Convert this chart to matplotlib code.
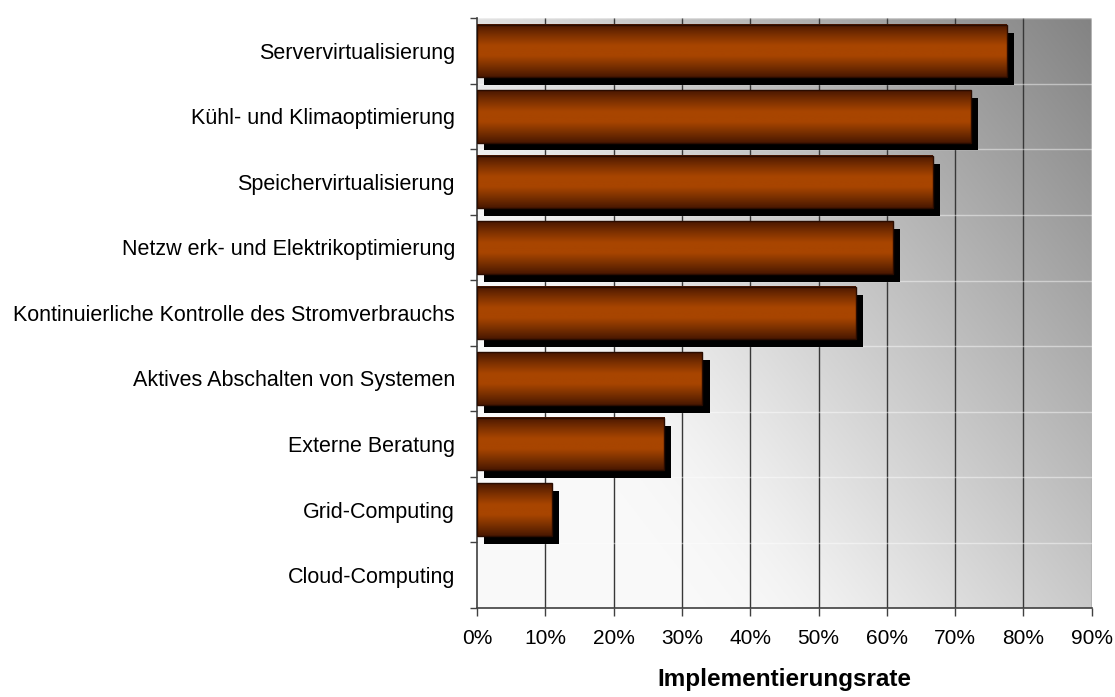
import numpy as np
import matplotlib.pyplot as plt
from matplotlib.colors import LinearSegmentedColormap
from matplotlib.patches import Rectangle

# Data (top to bottom)
categories = [
    "Servervirtualisierung",
    "Kühl- und Klimaoptimierung",
    "Speichervirtualisierung",
    "Netzw erk- und Elektrikoptimierung",
    "Kontinuierliche Kontrolle des Stromverbrauchs",
    "Aktives Abschalten von Systemen",
    "Externe Beratung",
    "Grid-Computing",
    "Cloud-Computing",
]
rates = [77.6, 72.3, 66.7, 60.9, 55.5, 33.0, 27.4, 10.9, 0.0]
x_ticks = [0, 10, 20, 30, 40, 50, 60, 70, 80, 90]
x_tick_labels = ["0%", "10%", "20%", "30%", "40%", "50%", "60%", "70%", "80%", "90%"]

plt.rcParams['font.family'] = ['Liberation Sans', 'DejaVu Sans']

fig = plt.figure(figsize=(11.15, 6.97), dpi=100)
ax = fig.add_axes([0.428, 0.128, 0.551, 0.846])
n = len(categories)
xmax = x_ticks[-1]

# diagonal grey background (light bottom-left, dark top-right)
gx, gy = np.meshgrid(np.linspace(0, 1, 400), np.linspace(0, 1, 400))
d = 95 * gx + 70 * gy - 46
d = np.log1p(np.exp(d / 6.0)) * 6.0   # soft max(0, d)
grey = np.clip(250 - d, 0, 255) / 255.0
bg = np.dstack([grey, grey, grey])
ax.imshow(bg, extent=(0, xmax, n - 0.5, -0.5), origin="lower", aspect="auto", zorder=0)

# vertical gridlines
for xv in x_ticks[1:-1]:
    ax.axvline(xv, color="#383838", lw=1.0, zorder=1)
ax.axvline(xmax, color="#b4b4b4", lw=1.5, zorder=1)

# faint floor lines between categories
for k in range(n):
    ax.axhline(k - 0.5 + 0.005, color="white", lw=1.0, alpha=0.45, zorder=1)

bar_cmap = LinearSegmentedColormap.from_list(
    "bar", ["#4a1700", "#7c3000", "#a84500", "#a84500", "#7a3000", "#4a1800"], N=256)
grad = np.linspace(0, 1, 100).reshape(-1, 1)
h = 0.8
dx, dy = 1.05, 0.12

for i, v in enumerate(rates):
    if v <= 0:
        continue
    # shadow
    ax.add_patch(Rectangle((dx, i - h / 2 + dy), v, h, facecolor="black",
                           edgecolor="none", zorder=2))
    # cylinder-like shaded face
    ax.imshow(grad, extent=(0, v, i + h / 2, i - h / 2), aspect="auto",
              cmap=bar_cmap, vmin=0, vmax=1, zorder=3)
    ax.add_patch(Rectangle((0, i - h / 2), v, h, facecolor="none",
                           edgecolor="#2a0c00", lw=1.0, zorder=4))

ax.set_xlim(0, xmax)
ax.set_ylim(n - 0.5, -0.5)

ax.set_xticks(x_ticks)
ax.set_xticklabels(x_tick_labels, fontsize=15)
ax.set_yticks(range(n))
ax.set_yticklabels(categories, fontsize=15.5)
ax.set_yticks(np.arange(-0.5, n, 1), minor=True)
ax.tick_params(axis="y", which="major", length=0, pad=16)
ax.tick_params(axis="y", which="minor", length=5, width=1, color="#404040", direction="out")
ax.tick_params(axis="x", length=6, width=1, color="#404040", direction="out", pad=9)

for side in ["top", "right"]:
    ax.spines[side].set_visible(False)
ax.spines["left"].set_color("#404040")
ax.spines["bottom"].set_color("#404040")
ax.spines["left"].set_linewidth(1.2)
ax.spines["bottom"].set_linewidth(1.2)

ax.set_xlabel("Implementierungsrate", fontsize=17.5, fontweight="bold", labelpad=15)

fig.savefig("out.png", dpi=100)
